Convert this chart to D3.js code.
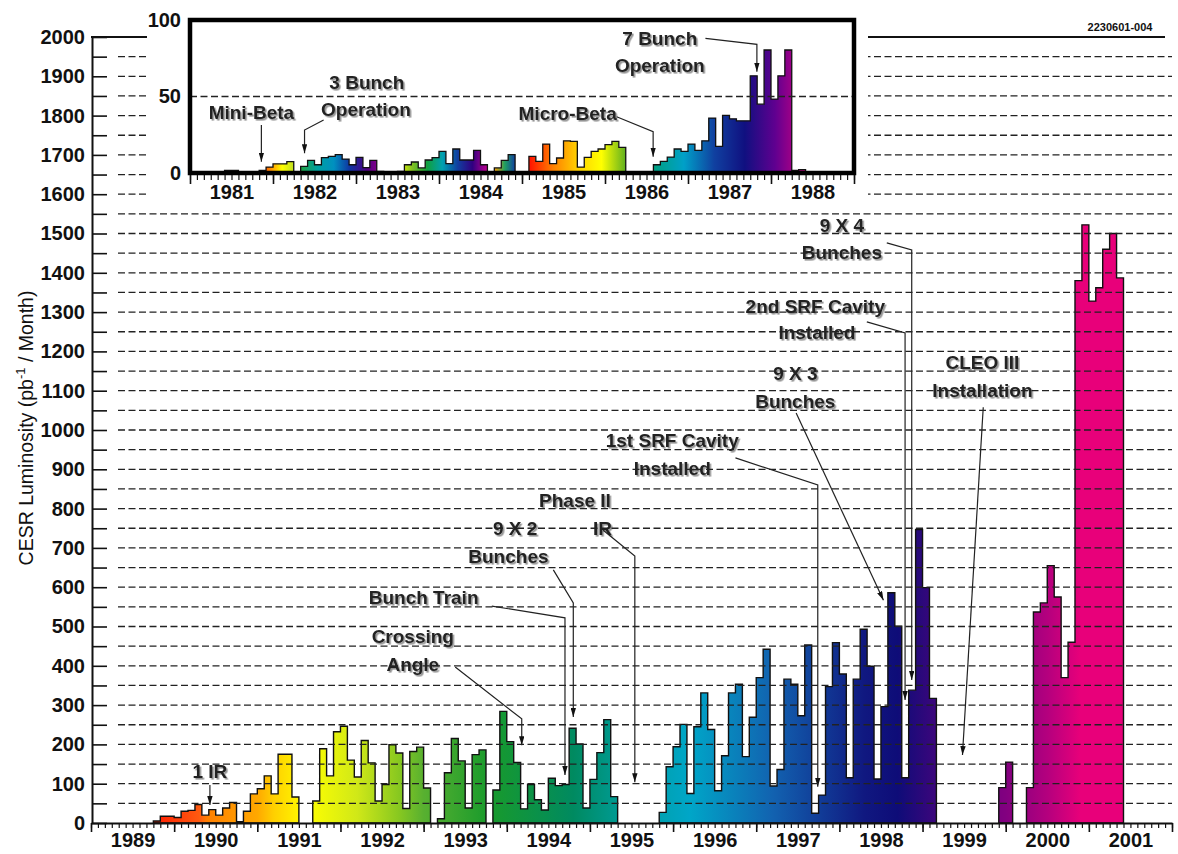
<!DOCTYPE html>
<html>
<head>
  <meta charset="utf-8"/>
  <title>CESR Luminosity</title>
  <style>
    body { margin: 0; background: #fff; }
    text { font-family: "Liberation Sans Narrow", "Liberation Sans", Arial, sans-serif; }
    .axis text { font-size: 20px; font-weight: bold; fill: #111; }
    .axis path, .axis line { stroke: #111; }
    .note { font-size: 19px; font-weight: bold; fill: #222; }
  </style>
</head>
<body>
<div id="chart"></div>
<script src="https://cdn.jsdelivr.net/npm/d3@7"></script>
<script>
    // monthly luminosity, one array per running period (pb^-1 / month)
    var mainRunStarts = ["1989-10", "1990-11", "1991-09", "1993-03", "1993-11", "1995-11", "1999-12", "2000-04"];
    var mainRunValues = [
      [5, 17, 17, 14, 30, 32, 47, 20, 34, 20, 38, 52, 3],
      [30, 74, 87, 120, 74, 175, 175, 66],
      [56, 189, 120, 232, 246, 160, 117, 210, 153, 56, 98, 199, 178, 37, 182, 193, 89],
      [11, 128, 215, 158, 38, 174, 186],
      [84, 284, 207, 154, 36, 98, 59, 33, 114, 95, 98, 241, 201, 38, 111, 179, 263, 67],
      [27, 143, 194, 251, 75, 245, 331, 238, 82, 171, 331, 353, 169, 269, 370, 442, 94, 136, 366, 353,
       273, 453, 25, 71, 347, 459, 379, 115, 366, 493, 399, 112, 296, 586, 501, 115, 338, 747, 599, 317],
      [90, 155],
      [90, 537, 560, 655, 575, 370, 460, 1380, 1522, 1328, 1362, 1460, 1500, 1387]
    ];
    // inset: 1981 - 1988
    var insetRunStarts = ["1981-05", "1981-11", "1982-05", "1983-07", "1984-09", "1985-02", "1986-08"];
    var insetRunValues = [
      [0.7, 1.7, 1.7],
      [1.7, 3.9, 6, 6, 7.4],
      [4.3, 8.3, 5.4, 10, 10.9, 12, 9.1, 5.4, 10.2, 3.5, 8.3, 1],
      [1, 5.4, 7.2, 3.3, 8.5, 10, 14.1, 6.1, 15.7, 8.5, 8.5, 14.8, 5.4],
      [3.3, 8.3, 12],
      [10.9, 7.6, 18.9, 6.1, 9.8, 21, 20.7, 3.9, 10.2, 14.1, 15.7, 18.5, 20.7, 16.7],
      [5.4, 7.6, 10.4, 15.7, 14.1, 18.9, 14.8, 21, 35.9, 17.4, 37.6, 35.4, 34.1, 34.1, 63.5, 45, 80.4, 48.3, 63.5, 80.4, 1.7, 2.2]
    ];
    var mainYears = d3.range(1989, 2002);
    var insetYears = d3.range(1981, 1989);

    // colours
    var mainColourStops = [[1989.7, "#ff1800"], [1990.3, "#ff5a10"], [1990.4, "#ff8000"], [1991.0, "#ffa800"],
      [1991.2, "#ffd000"], [1991.6, "#ffff00"], [1992.2, "#d0e818"], [1992.7, "#88c820"], [1993.0, "#58b030"],
      [1993.8, "#189a2c"], [1994.8, "#008a60"], [1995.4, "#009c98"], [1996.2, "#00a6c8"], [1997.2, "#1262b0"],
      [1998.3, "#101880"], [1998.7, "#0e0c78"], [1999.6, "#680080"], [2000.0, "#820080"], [2000.5, "#b4007e"],
      [2000.9, "#e8007a"]];
    var insetRunColours = [
      ["#00a060", "#0080a0", "#1050a0"],
      ["#ff2000", "#ff9000", "#ffff00", "#c0e020"],
      ["#20a040", "#00a0a0", "#0090c0", "#1030a0", "#500080", "#a00090"],
      ["#ffff00", "#80c020", "#10a040", "#00a0b0", "#1040a0", "#300080", "#c00090"],
      ["#ffa000", "#20a060", "#1040a0"],
      ["#ff1000", "#ff8000", "#ffd000", "#ffff00", "#60b020"],
      ["#00a080", "#00a0c8", "#1040a0", "#101080", "#600090", "#d00080"]
    ];

    // annotations: text lines at [year, value], arrow path in data units
    var mainNotes = [
      {lines: [["1 IR", 1990.43, 114]], arrow: [[1990.43, 97], [1990.43, 46]]},
      {lines: [["Crossing", 1992.87, 458], ["Angle", 1992.87, 387]], arrow: [[1993.38, 397], [1994.18, 265], [1994.18, 198]]},
      {lines: [["Bunch Train", 1993.0, 557]], arrow: [[1993.82, 552], [1994.70, 522], [1994.70, 122]]},
      {lines: [["9 X 2", 1994.10, 733], ["Bunches", 1994.02, 662]], arrow: [[1994.56, 644], [1994.80, 560], [1994.80, 270]]},
      {lines: [["Phase II", 1994.82, 804], ["IR", 1995.15, 733]], arrow: [[1995.16, 745], [1995.54, 679], [1995.54, 104]]},
      {lines: [["1st SRF Cavity", 1995.99, 957], ["Installed", 1995.99, 886]], arrow: [[1996.75, 929], [1997.74, 860], [1997.74, 92]]},
      {lines: [["9 X 3", 1997.47, 1127], ["Bunches", 1997.47, 1056]], arrow: [[1997.48, 1043], [1998.53, 567]]},
      {lines: [["2nd SRF Cavity", 1997.71, 1298], ["Installed", 1997.73, 1232]], arrow: [[1998.33, 1275], [1998.79, 1247], [1998.79, 313]]},
      {lines: [["9 X 4", 1998.03, 1504], ["Bunches", 1998.03, 1435]], arrow: [[1998.57, 1476], [1998.87, 1458], [1998.87, 364]]},
      {lines: [["CLEO III", 1999.72, 1155], ["Installation", 1999.72, 1084]], arrow: [[1999.73, 1058], [1999.48, 173]]}
    ];
    var insetNotes = [
      {lines: [["Mini-Beta", 1981.74, 35.3]], arrow: [[1981.86, 31.4], [1981.86, 7.4]]},
      {lines: [["3 Bunch", 1983.13, 54.9], ["Operation", 1983.12, 37.3]], arrow: [[1982.61, 34.6], [1982.38, 28.1], [1982.38, 12.9]]},
      {lines: [["Micro-Beta", 1985.55, 34.6]], arrow: [[1986.14, 36.8], [1986.58, 27], [1986.58, 10.7]]},
      {lines: [["7 Bunch", 1986.66, 83.7], ["Operation", 1986.66, 66]], arrow: [[1987.21, 88], [1987.83, 84.1], [1987.83, 66.2]]}
    ];

    function toYear(s) { var p = s.split("-"); return +p[0] + (+p[1] - 1) / 12; }

    var width = 1178, height = 854;
    var svg = d3.select("#chart").append("svg")
        .attr("width", width).attr("height", height);
    var defs = svg.append("defs");

    var f = defs.append("filter").attr("id", "shadow")
        .attr("x", "-10%").attr("y", "-20%").attr("width", "130%").attr("height", "150%");
    f.append("feDropShadow").attr("dx", 1.6).attr("dy", 1.6).attr("stdDeviation", 0.7)
        .attr("flood-color", "#666").attr("flood-opacity", 0.7);

    defs.append("marker").attr("id", "head")
        .attr("viewBox", "0 0 10 6").attr("refX", 10).attr("refY", 3)
        .attr("markerWidth", 9).attr("markerHeight", 5.5).attr("markerUnits", "userSpaceOnUse")
        .attr("orient", "auto")
      .append("path").attr("d", "M0,0L10,3L0,6Z").attr("fill", "#111");

    // scales
    var x = d3.scaleLinear().domain([1989, 2002]).range([91, 1172]);
    var y = d3.scaleLinear().domain([0, 2000]).range([823, 37]);
    var xi = d3.scaleLinear().domain([1981, 1989]).range([190, 854]);
    var yi = d3.scaleLinear().domain([0, 100]).range([173, 20]);

    function runPoints(start, vals) {
      var t0 = toYear(start);
      var pts = vals.map(function(v, i) { return [t0 + i / 12, v]; });
      pts.push([t0 + vals.length / 12, vals[vals.length - 1]]);
      return pts;
    }

    // main gradient spans the whole time axis
    var t0 = mainColourStops[0][0], t1 = mainColourStops[mainColourStops.length - 1][0];
    var mg = defs.append("linearGradient").attr("id", "mainGrad")
        .attr("gradientUnits", "userSpaceOnUse")
        .attr("x1", x(t0)).attr("x2", x(t1)).attr("y1", 0).attr("y2", 0);
    mg.selectAll("stop").data(mainColourStops).enter().append("stop")
        .attr("offset", function(d) { return (d[0] - t0) / (t1 - t0); })
        .attr("stop-color", function(d) { return d[1]; });

    var mainArea = d3.area().curve(d3.curveStepAfter)
        .x(function(d) { return x(d[0]); }).y0(y(0)).y1(function(d) { return y(d[1]); });

    svg.append("g").selectAll("path").data(mainRunValues).enter().append("path")
        .attr("d", function(d, i) { return mainArea(runPoints(mainRunStarts[i], d)); })
        .attr("fill", "url(#mainGrad)")
        .attr("stroke", "#111").attr("stroke-width", 1.4).attr("stroke-linejoin", "miter");

    function drawNotes(g, notes, sx, sy) {
      notes.forEach(function(n) {
        n.lines.forEach(function(l) {
          g.append("text").attr("class", "note").attr("filter", "url(#shadow)")
            .attr("x", sx(l[1])).attr("y", sy(l[2])).attr("text-anchor", "middle").text(l[0]);
        });
        g.append("path")
          .attr("d", d3.line().x(function(d) { return sx(d[0]); }).y(function(d) { return sy(d[1]); })(n.arrow))
          .attr("fill", "none").attr("stroke", "#222").attr("stroke-width", 1.2)
          .attr("marker-end", "url(#head)");
      });
    }
    drawNotes(svg.append("g"), mainNotes, x, y);

    // dashed grid over the bars
    svg.append("g").selectAll("line").data(d3.range(50, 2000, 50)).enter().append("line")
        .attr("x1", 118).attr("x2", 1172)
        .attr("y1", function(d) { return y(d); }).attr("y2", function(d) { return y(d); })
        .attr("stroke", "#222").attr("stroke-width", 1.3).attr("stroke-dasharray", "7,3.5");
    svg.append("line").attr("x1", x(1989)).attr("x2", 1165).attr("y1", y(2000)).attr("y2", y(2000))
        .attr("stroke", "#111").attr("stroke-width", 2);

    // axes
    svg.append("g").attr("class", "axis").attr("transform", "translate(" + 92 + ",0)")
        .call(d3.axisLeft(y).tickValues(d3.range(0, 2001, 50)).tickSizeInner(-15).tickSizeOuter(0).tickPadding(7)
          .tickFormat(function(d) { return d % 100 === 0 ? d : ""; }))
        .call(function(g) { g.select(".domain").attr("stroke-width", 2); g.selectAll("line").attr("stroke-width", 1.6); });

    var months = d3.range(0, 13 * 12 + 1).map(function(k) { return 1989 + k / 12; });
    var xAxisG = svg.append("g").attr("transform", "translate(0," + y(0) + ")");
    xAxisG.append("g").attr("class", "axis")
        .call(d3.axisBottom(x).tickValues(months).tickSizeInner(5).tickSizeOuter(0).tickFormat(""))
        .call(function(g) { g.select(".domain").attr("stroke-width", 2.2); g.selectAll("line").attr("stroke-width", 1.2); });
    xAxisG.append("g").attr("class", "axis")
        .call(d3.axisBottom(x).tickValues(mainYears.concat([2002])).tickSizeInner(9).tickSizeOuter(0).tickFormat(""))
        .call(function(g) { g.select(".domain").remove(); g.selectAll("line").attr("stroke-width", 1.6); });
    xAxisG.append("g").attr("class", "axis")
        .call(d3.axisBottom(x).tickValues(mainYears.map(function(d) { return d + 0.5; }))
          .tickSize(0).tickPadding(10).tickFormat(function(d) { return Math.floor(d); }))
        .call(function(g) { g.select(".domain").remove(); });

    svg.append("text")
        .attr("transform", "translate(33,428) rotate(-90)")
        .attr("text-anchor", "middle")
        .style("font-family", "'Liberation Sans', Arial, sans-serif")
        .style("font-size", "19.5px").style("font-weight", "500").attr("fill", "#111")
        .call(function(t) {
          t.append("tspan").text("CESR Luminosity (pb");
          t.append("tspan").attr("dy", -8).style("font-size", "13px").text("-1");
          t.append("tspan").attr("dy", 8).text(" / Month)");
        });

    // ---- inset 1981-1988 ----
    var inset = svg.append("g");
    inset.append("rect").attr("x", 147).attr("y", 0).attr("width", 721).attr("height", 205).attr("fill", "#fff");

    var insetArea = d3.area().curve(d3.curveStepAfter)
        .x(function(d) { return xi(d[0]); }).y0(yi(0)).y1(function(d) { return yi(d[1]); });
    insetRunValues.forEach(function(vals, i) {
      var pts = runPoints(insetRunStarts[i], vals);
      var cols = insetRunColours[i];
      var grad = defs.append("linearGradient").attr("id", "insetGrad" + i)
          .attr("gradientUnits", "userSpaceOnUse")
          .attr("x1", xi(pts[0][0])).attr("x2", xi(pts[pts.length - 1][0])).attr("y1", 0).attr("y2", 0);
      grad.selectAll("stop").data(cols).enter().append("stop")
          .attr("offset", function(d, j) { return j / (cols.length - 1); })
          .attr("stop-color", function(d) { return d; });
      inset.append("path").attr("d", insetArea(pts))
          .attr("fill", "url(#insetGrad" + i + ")")
          .attr("stroke", "#111").attr("stroke-width", 1.3);
    });

    inset.append("line").attr("x1", xi(1981)).attr("x2", xi(1989))
        .attr("y1", yi(50)).attr("y2", yi(50))
        .attr("stroke", "#222").attr("stroke-width", 1.3).attr("stroke-dasharray", "7,3.5");

    drawNotes(inset.append("g"), insetNotes, xi, yi);

    inset.append("rect").attr("x", xi(1981)).attr("y", yi(100))
        .attr("width", xi(1989) - xi(1981)).attr("height", yi(0) - yi(100))
        .attr("fill", "none").attr("stroke", "#000").attr("stroke-width", 4.5);

    inset.append("g").attr("class", "axis").attr("transform", "translate(" + xi(1981) + ",0)")
        .call(d3.axisLeft(yi).tickValues([0, 50, 100]).tickSize(0).tickPadding(9))
        .call(function(g) { g.select(".domain").remove(); });

    var insetMonths = d3.range(0, 8 * 12 + 1).map(function(k) { return 1981 + k / 12; });
    var ixG = inset.append("g").attr("transform", "translate(0," + (yi(0) + 2) + ")");
    ixG.append("g").attr("class", "axis")
        .call(d3.axisBottom(xi).tickValues(insetMonths).tickSizeInner(5).tickSizeOuter(0).tickFormat(""))
        .call(function(g) { g.select(".domain").remove(); g.selectAll("line").attr("stroke-width", 1.2); });
    ixG.append("g").attr("class", "axis")
        .call(d3.axisBottom(xi).tickValues(insetYears.concat([1989])).tickSizeInner(9).tickSizeOuter(0).tickFormat(""))
        .call(function(g) { g.select(".domain").remove(); g.selectAll("line").attr("stroke-width", 1.6); });
    ixG.append("g").attr("class", "axis")
        .call(d3.axisBottom(xi).tickValues(insetYears.map(function(d) { return d + 0.5; }))
          .tickSize(0).tickPadding(10).tickFormat(function(d) { return Math.floor(d); }))
        .call(function(g) { g.select(".domain").remove(); });

    svg.append("text").attr("x", 1120).attr("y", 31).attr("text-anchor", "middle")
        .style("font-size", "11px").style("font-weight", "bold").attr("fill", "#111")
        .text("2230601-004");
</script>
</body>
</html>
